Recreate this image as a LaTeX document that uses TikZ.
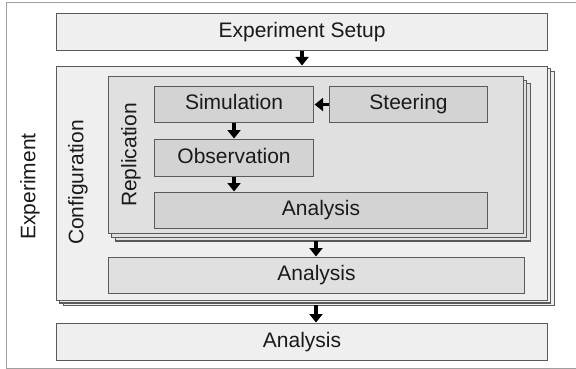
\documentclass[tikz,border=0pt]{standalone}
\usepackage{fontspec}
\setmainfont{Liberation Sans}
\usetikzlibrary{arrows.meta}
\definecolor{paleA}{HTML}{EFEFEF}
\definecolor{paleB}{HTML}{E0E0E0}
\definecolor{paleC}{HTML}{D3D3D3}
\definecolor{edge}{HTML}{5A5A5A}
\definecolor{ink}{HTML}{1A1A1A}
\tikzset{
  box/.style={draw=edge, line width=1.1pt, anchor=north west, inner sep=0pt,
    text=ink, font=\fontsize{21}{24}\selectfont, text height=15pt, text depth=4.5pt},
  sidelabel/.style={rotate=90, text=ink, font=\fontsize{21}{24}\selectfont, inner sep=0pt},
  flow/.style={line width=3.2pt, draw=black, -{Triangle[width=13pt,length=8.5pt]}, shorten >=0.5pt}
}
\begin{document}
\begin{tikzpicture}[x=1pt,y=-1pt]
\useasboundingbox (0,0) rectangle (576,369);
\fill[white] (0,0) rectangle (576,369);
% surrounding frame (its right side lies past the page edge)
\draw[gray!75, line width=1pt] (6,3) rectangle (590,368);

\node[sidelabel] (explabel) at (30,186.5) {Experiment};

% setup
\node[box, fill=paleA, minimum width=491pt, minimum height=37pt] (setup) at (56,13) {Experiment Setup};

% configuration stack
\node[box, fill=paleA, minimum width=491pt, minimum height=234pt] (cfgC) at (62.6,70.8) {};
\node[box, fill=paleA, minimum width=491pt, minimum height=234pt] (cfgB) at (59.3,68.4) {};
\node[box, fill=paleA, minimum width=491pt, minimum height=234pt] (cfg) at (56,66) {};
\node[sidelabel] (cfglabel) at (78,182.5) {Configuration};

% replication stack
\node[box, fill=paleB, minimum width=415pt, minimum height=157pt] (repC) at (114.6,83.4) {};
\node[box, fill=paleB, minimum width=415pt, minimum height=157pt] (repB) at (111.3,79.7) {};
\node[box, fill=paleB, minimum width=415pt, minimum height=157pt] (rep) at (108,76) {};
\node[sidelabel] (replabel) at (131,155) {Replication};

% steps inside a replication
\node[box, fill=paleC, minimum width=159pt, minimum height=36pt] (sim) at (154,86) {Simulation};
\node[box, fill=paleC, minimum width=158pt, minimum height=36pt] (steer) at (329,86) {Steering};
\node[box, fill=paleC, minimum width=159pt, minimum height=37pt] (obs) at (154,139) {Observation};
\node[box, fill=paleC, minimum width=333pt, minimum height=36pt] (anaRep) at (154,192) {Analysis};

% analysis per configuration and per experiment
\node[box, fill=paleB, minimum width=416pt, minimum height=36pt] (anaCfg) at (108,257) {Analysis};
\node[box, fill=paleA, minimum width=491pt, minimum height=37pt] (anaExp) at (56,323) {Analysis};

% arrows
\draw[flow] (setup.south) -- (setup.south |- cfg.north);
\draw[flow] (steer.west) -- (sim.east);
\draw[flow] (sim.south) -- (obs.north);
\draw[flow] (obs.south) -- (obs.south |- anaRep.north);
\coordinate (repfoot) at (316,241);
\draw[flow] (repfoot) -- (repfoot |- anaCfg.north);
\coordinate (cfgfoot) at (316,305);
\draw[flow] (cfgfoot) -- (cfgfoot |- anaExp.north);
\end{tikzpicture}
\end{document}
